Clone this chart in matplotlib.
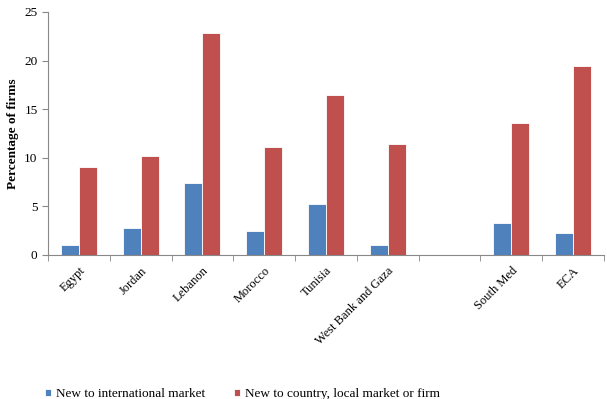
import matplotlib.pyplot as plt
import numpy as np

plt.rcParams['font.family'] = ['Liberation Serif', 'DejaVu Serif']

categories = ['Egypt', 'Jordan', 'Lebanon', 'Morocco', 'Tunisia', 'West Bank and Gaza', '', 'South Med', 'ECA']
intl = [1.0, 2.8, 7.4, 2.5, 5.2, 1.0, np.nan, 3.3, 2.3]
local = [9.1, 10.2, 22.8, 11.1, 16.5, 11.4, np.nan, 13.6, 19.4]

fig = plt.figure(figsize=(6.07, 3.99), dpi=100)
ax = fig.add_axes([0.079, 0.361, 0.916, 0.609])

x = np.arange(len(categories))
w = 0.29
ax.bar(x - w / 2, intl, w, color='#4F81BD', edgecolor='white', linewidth=0.6,
       label='New to international market')
ax.bar(x + w / 2, local, w, color='#C0504D', edgecolor='white', linewidth=0.6,
       label='New to country, local market or firm')

ax.set_xlim(-0.5, len(categories) - 0.5)
ax.set_ylim(0, 25)
ax.set_yticks([0, 5, 10, 15, 20, 25])
ax.set_xticks(x)
ax.set_xticklabels(categories, rotation=45, ha='right', rotation_mode='anchor', fontsize=9)
ax.set_xticks(np.arange(len(categories) + 1) - 0.5, minor=True)
ax.tick_params(axis='x', which='major', length=0, pad=7)
ax.tick_params(axis='x', which='minor', length=4, color='#888888', direction='out')
ax.tick_params(axis='y', length=4, color='#888888', labelsize=9.5)
ax.set_ylabel('Percentage of firms', fontsize=9.5, fontweight='bold')

for s in ['top', 'right']:
    ax.spines[s].set_visible(False)
for s in ['left', 'bottom']:
    ax.spines[s].set_color('#888888')

fig.legend(loc='lower left', bbox_to_anchor=(0.055, -0.033), ncol=2, frameon=False,
           fontsize=9.5, handlelength=0.45, handleheight=0.45, handletextpad=0.35,
           columnspacing=2.2)

fig.savefig('out.png', dpi=100)
